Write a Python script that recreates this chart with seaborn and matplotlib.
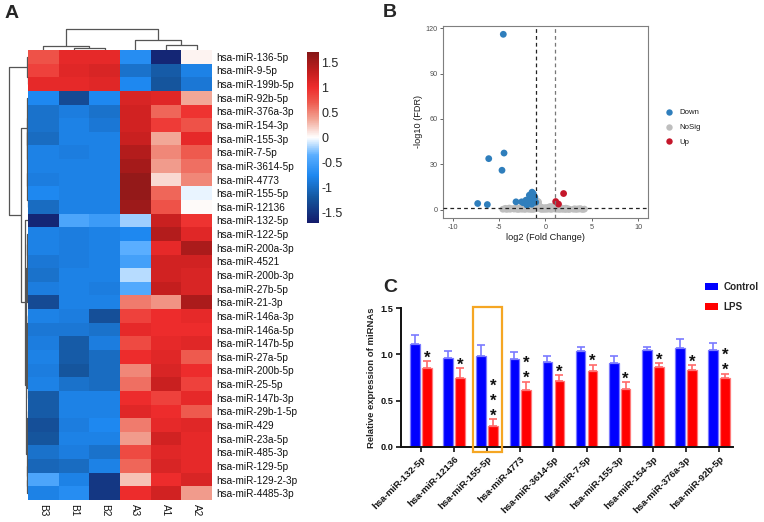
import numpy as np
import pandas as pd
import matplotlib
matplotlib.use('Agg')
import matplotlib.pyplot as plt
import seaborn as sns
from matplotlib.colors import LinearSegmentedColormap
from matplotlib.patches import Rectangle
from matplotlib.lines import Line2D

sns.set_theme(style='white')
plt.rcParams['font.family'] = ['Liberation Sans', 'DejaVu Sans']
plt.rcParams['axes.unicode_minus'] = False

# ---------------- Panel A data ----------------
samples = ['B3', 'B1', 'B2', 'A3', 'A1', 'A2']
mirnas = ['hsa-miR-136-5p', 'hsa-miR-9-5p', 'hsa-miR-199b-5p', 'hsa-miR-92b-5p',
          'hsa-miR-376a-3p', 'hsa-miR-154-3p', 'hsa-miR-155-3p', 'hsa-miR-7-5p',
          'hsa-miR-3614-5p', 'hsa-miR-4773', 'hsa-miR-155-5p', 'hsa-miR-12136',
          'hsa-miR-132-5p', 'hsa-miR-122-5p', 'hsa-miR-200a-3p', 'hsa-miR-4521',
          'hsa-miR-200b-3p', 'hsa-miR-27b-5p', 'hsa-miR-21-3p', 'hsa-miR-146a-3p',
          'hsa-miR-146a-5p', 'hsa-miR-147b-5p', 'hsa-miR-27a-5p', 'hsa-miR-200b-5p',
          'hsa-miR-25-5p', 'hsa-miR-147b-3p', 'hsa-miR-29b-1-5p', 'hsa-miR-429',
          'hsa-miR-23a-5p', 'hsa-miR-485-3p', 'hsa-miR-129-5p', 'hsa-miR-129-2-3p',
          'hsa-miR-4485-3p']
heat = [
    [0.75, 1.05, 1.05, -0.70, -1.60, 0.05],
    [0.85, 1.10, 1.15, -0.95, -1.15, -0.80],
    [1.05, 1.05, 1.10, -0.75, -1.20, -0.90],
    [-0.75, -1.30, -0.75, 1.15, 1.10, 0.35],
    [-0.95, -0.85, -0.95, 1.20, 0.65, 0.95],
    [-0.95, -0.80, -0.90, 1.20, 0.90, 0.75],
    [-1.00, -0.80, -0.80, 1.25, 0.35, 1.05],
    [-0.80, -0.85, -0.80, 1.40, 0.50, 0.70],
    [-0.80, -0.80, -0.80, 1.50, 0.40, 0.60],
    [-0.85, -0.80, -0.80, 1.60, 0.15, 0.50],
    [-0.75, -0.80, -0.80, 1.60, 0.65, -0.05],
    [-1.00, -0.80, -0.80, 1.55, 0.75, 0.02],
    [-1.60, -0.45, -0.55, -0.20, 1.25, 0.95],
    [-0.80, -0.85, -0.80, -0.75, 1.40, 1.10],
    [-0.80, -0.85, -0.80, -0.35, 1.05, 1.45],
    [-0.90, -0.85, -0.80, -0.50, 1.20, 1.20],
    [-0.95, -0.80, -0.80, -0.15, 1.20, 1.15],
    [-0.85, -0.80, -0.85, -0.40, 1.30, 1.15],
    [-1.30, -0.80, -0.80, 0.55, 0.45, 1.45],
    [-0.80, -0.85, -1.25, 0.85, 1.00, 1.05],
    [-0.90, -0.90, -0.95, 1.05, 1.00, 1.00],
    [-0.85, -1.15, -0.85, 0.80, 1.05, 1.10],
    [-0.80, -1.15, -1.00, 1.00, 1.10, 0.70],
    [-0.85, -1.20, -1.00, 0.50, 1.15, 1.00],
    [-0.80, -0.95, -1.00, 0.60, 1.25, 0.85],
    [-1.15, -0.80, -0.80, 1.00, 0.85, 1.05],
    [-1.15, -0.80, -0.80, 1.10, 1.00, 0.70],
    [-1.25, -0.85, -0.75, 0.55, 1.05, 1.10],
    [-1.20, -0.80, -0.80, 0.40, 1.20, 1.05],
    [-0.95, -0.85, -0.95, 0.80, 1.10, 1.05],
    [-1.05, -1.00, -0.80, 0.65, 1.15, 1.05],
    [-0.45, -0.80, -1.45, 0.25, 1.00, 1.15],
    [-0.80, -0.70, -1.45, 1.00, 1.20, 0.40],
]
# dendrogram topology: [left, right, merge height]
col_tree = [[0, [1, 2, 2.0], 4.0], [3, [4, 5, 5.0], 10.0], 21.0]
row_tree = [
    [0, [1, 2, 0.4], 0.9],
    [
        [3, [[[4, 5, 0.3], [6, 7, 0.35], 0.55], [[8, 9, 0.3], [10, 11, 0.45], 0.6], 0.8], 1.1],
        [12, [[[[13, [14, 15, 0.3], 0.5], [[16, 17, 0.35], 18, 0.6], 0.9],
               [[[19, 20, 0.4], [21, 22, 0.3], 0.6], [[23, 24, 0.3], 25, 0.45], 0.8], 1.6],
              [[[26, 27, 0.35], [28, 29, 0.3], 0.6], [30, [31, 32, 0.9], 1.1], 1.3], 2.2], 3.0],
        7.3],
    18.7]

# ---------------- Panel B data ----------------
down_x = [-4.55, -4.47, -6.12, -4.69, -7.31, -6.27, -3.18, -2.57, -2.10, -1.74, -1.45,
          -1.31, -1.85, -1.05, -1.60, -2.40, -1.20, -1.50, -2.00, -1.15, -1.35]
down_y = [116.0, 37.4, 33.7, 26.0, 4.0, 3.3, 5.1, 5.1, 6.2, 9.5, 11.5,
          10.4, 6.6, 4.8, 7.5, 4.5, 5.0, 3.5, 3.0, 8.2, 6.0]
up_x = [1.10, 1.40, 1.95]
up_y = [5.3, 3.6, 10.6]
nosig_x = [-4.6, -4.4, -4.2, -4.0, -3.8, -3.6, -3.4, -3.3, -3.1, -3.0,
           -2.9, -2.7, -2.6, -2.5, -2.3, -2.2, -2.1, -1.9, -1.8, -1.7,
           -1.6, -1.5, -1.4, -1.3, -1.2, -1.1, -1.0, -0.95, -0.9, -0.85,
           -0.8, -0.75, -0.7, -0.65, -0.6, -0.55, -0.5, -0.4, -0.3, -0.2,
           -0.1, 0.0, 0.1, 0.2, 0.3, 0.4, 0.5, 0.6, 0.7, 0.8,
           0.9, 1.0, 1.1, 1.2, 1.3, 1.4, 1.5, 1.6, 1.7, 1.8,
           1.9, 2.0, 2.1, 2.2, 2.3, 2.4, 2.5, 2.6, 3.0, 3.15,
           3.3, 3.45, 3.6, 3.75, 3.9, 4.05, 4.2, -0.9, -0.8, -0.7,
           -0.6, -0.5, -0.4, 0.3, 0.5, 0.7, 0.9, -2.8, -2.0, -1.5,
           -3.9, 1.0, 1.6, 2.2, -4.3, -0.85, -0.75, 1.2, -1.1, 0.0]
nosig_y = [0.2, 0.5, 0.1, 0.4, 0.2, 0.6, 0.3, 0.8, 0.2, 0.6,
           0.1, 0.4, 0.9, 0.2, 0.5, 0.1, 0.7, 0.3, 1.0, 0.2,
           0.6, 0.4, 0.9, 0.1, 1.1, 0.5, 1.2, 2.2, 3.0, 3.8,
           4.4, 3.4, 2.8, 2.0, 1.6, 1.1, 0.8, 0.3, 0.6, 0.1,
           0.9, 0.4, 0.2, 0.7, 0.3, 1.0, 0.5, 0.1, 0.8, 0.4,
           1.2, 0.9, 0.2, 0.6, 0.3, 0.8, 0.1, 0.5, 0.9, 0.2,
           0.4, 0.7, 0.1, 0.3, 0.6, 0.2, 0.4, 0.1, 0.2, 0.5,
           0.1, 0.4, 0.3, 0.6, 0.2, 0.1, 0.3, 1.0, 1.8, 1.3,
           0.7, 0.2, 1.5, 1.5, 2.0, 1.1, 2.4, 1.0, 1.2, 0.2,
           1.0, 2.3, 1.4, 0.9, 0.8, 5.5, 5.0, 2.8, 2.5, 1.3]

# ---------------- Panel C data ----------------
bar_mirnas = ['hsa-miR-132-5p', 'hsa-miR-12136', 'hsa-miR-155-5p', 'hsa-miR-4773',
              'hsa-miR-3614-5p', 'hsa-miR-7-5p', 'hsa-miR-155-3p', 'hsa-miR-154-3p',
              'hsa-miR-376a-3p', 'hsa-miR-92b-5p']
ctrl_mean = [1.11, 0.96, 0.98, 0.95, 0.915, 1.035, 0.91, 1.045, 1.075, 1.045]
ctrl_sd = [0.10, 0.08, 0.125, 0.08, 0.065, 0.05, 0.075, 0.04, 0.09, 0.08]
lps_mean = [0.855, 0.75, 0.225, 0.615, 0.71, 0.82, 0.625, 0.862, 0.832, 0.745]
lps_sd = [0.075, 0.10, 0.072, 0.09, 0.068, 0.07, 0.077, 0.046, 0.051, 0.047]
stars = ['*', '*', '***', '**', '*', '*', '*', '*', '*', '**']

W, H = 764, 522
fig = plt.figure(figsize=(W / 100, H / 100), dpi=100)


def box(x0, y0, x1, y1):
    return [x0 / W, 1 - y1 / H, (x1 - x0) / W, (y1 - y0) / H]


# ================= Panel A =================
cmap = LinearSegmentedColormap.from_list('hm', [
    (0.0, '#141B6B'), (0.147, '#15569E'), (0.279, '#1E88F0'), (0.397, '#5AAEFF'),
    (0.5, '#FFFFFF'), (0.603, '#F2A898'), (0.706, '#EE5A4E'), (0.794, '#EE2C2C'),
    (0.882, '#C41E1E'), (1.0, '#861717')])

ax_h = fig.add_axes(box(28, 50, 212, 500))
ax_cb = fig.add_axes(box(307, 52, 318.5, 223))
df_heat = pd.DataFrame(heat, index=mirnas, columns=samples)
sns.heatmap(df_heat, ax=ax_h, cmap=cmap, vmin=-1.7, vmax=1.7, cbar_ax=ax_cb,
            xticklabels=True, yticklabels=True, linewidths=0)
ax_h.yaxis.tick_right()
ax_h.set_yticklabels(mirnas, rotation=0, fontsize=7.2, color='#111111')
ax_h.set_xticklabels(samples, rotation=270, fontsize=7.2, color='#111111')
ax_h.tick_params(axis='both', length=0, pad=3)
ax_h.set_xlabel('')
ax_h.set_ylabel('')
ax_cb.set_yticks([1.5, 1, 0.5, 0, -0.5, -1, -1.5])
ax_cb.set_yticklabels(['1.5', '1', '0.5', '0', '-0.5', '-1', '-1.5'], fontsize=9)
ax_cb.tick_params(length=0, pad=2)


def draw_tree(ax, node, orient):
    if isinstance(node, int):
        return node + 0.5, 0.0
    l, r, h = node
    pl, hl = draw_tree(ax, l, orient)
    pr, hr = draw_tree(ax, r, orient)
    ps = [pl, pl, pr, pr]
    hs = [hl, h, h, hr]
    if orient == 'top':
        ax.plot(ps, hs, color='#555555', lw=0.9, solid_capstyle='butt')
    else:
        ax.plot(hs, ps, color='#555555', lw=0.9, solid_capstyle='butt')
    return (pl + pr) / 2, h


ax_cd = fig.add_axes(box(28, 28, 212, 50))
draw_tree(ax_cd, col_tree, 'top')
ax_cd.set_xlim(0, 6)
ax_cd.set_ylim(0, 22)
ax_cd.axis('off')

ax_rd = fig.add_axes(box(8, 50, 28, 500))
draw_tree(ax_rd, row_tree, 'left')
ax_rd.set_ylim(33, 0)
ax_rd.set_xlim(20, 0)
ax_rd.axis('off')

fig.text(5 / W, 1 - 18 / H, 'A', fontsize=14, fontweight='bold')

# ================= Panel B =================
ax_v = fig.add_axes(box(443, 26, 648, 218))
df_v = pd.DataFrame({
    'log2FC': nosig_x + down_x + up_x,
    'nlogFDR': nosig_y + down_y + up_y,
    'group': ['NoSig'] * len(nosig_x) + ['Down'] * len(down_x) + ['Up'] * len(up_x)})
pal = {'Down': '#2F7EBC', 'NoSig': '#BEBEBE', 'Up': '#C4162A'}
sns.scatterplot(data=df_v, x='log2FC', y='nlogFDR', hue='group',
                hue_order=['Down', 'NoSig', 'Up'], palette=pal, s=24,
                linewidth=0, ax=ax_v, legend=False, zorder=3)
ax_v.axvline(-1, color='#222222', lw=0.9, ls=(0, (3, 2.5)), zorder=4)
ax_v.axvline(1, color='#777777', lw=0.9, ls=(0, (3, 2.5)), zorder=4)
ax_v.axhline(1.3, color='#222222', lw=0.9, ls=(0, (3, 2.5)), zorder=4)
ax_v.set_xlim(-11.05, 11.05)
ax_v.set_ylim(-5.6, 121.5)
ax_v.set_xticks([-10, -5, 0, 5, 10])
ax_v.set_yticks([0, 30, 60, 90, 120])
for s in ax_v.spines.values():
    s.set_color('#7F7F7F')
    s.set_linewidth(0.8)
ax_v.tick_params(axis='both', labelsize=5.2, colors='#4D4D4D', length=2.5, width=0.6,
                 direction='out', bottom=True, left=True, pad=1.5)
ax_v.set_xlabel('log2 (Fold Change)', fontsize=6.6, color='#1A1A1A', labelpad=1.5)
ax_v.set_ylabel('-log10 (FDR)', fontsize=6.6, color='#1A1A1A', labelpad=2)
handles = [Line2D([0], [0], marker='o', ls='', markersize=4.6, markerfacecolor=pal[g],
                  markeredgewidth=0) for g in ['Down', 'NoSig', 'Up']]
fig.legend(handles, ['Down', 'NoSig', 'Up'], loc='upper left',
           bbox_to_anchor=(657 / W, 1 - 102 / H), frameon=False, fontsize=5.6,
           handletextpad=0.8, labelspacing=0.95, handlelength=1.2, labelcolor='#1A1A1A')
fig.text(383 / W, 1 - 17 / H, 'B', fontsize=14, fontweight='bold')

# ================= Panel C =================
ax_b = fig.add_axes(box(400.7, 308.3, 733, 446.7))
df_b = pd.DataFrame({
    'miRNA': bar_mirnas * 2,
    'value': ctrl_mean + lps_mean,
    'group': ['Control'] * len(bar_mirnas) + ['LPS'] * len(bar_mirnas)})
sns.barplot(data=df_b, x='miRNA', y='value', hue='group', hue_order=['Control', 'LPS'],
            palette={'Control': '#0000FF', 'LPS': '#FF0000'}, width=0.72, gap=0.2,
            errorbar=None, ax=ax_b, legend=False, saturation=1)
edgec = ['#7A7AFF', '#FF7A7A']
errc = ['#7A7AFF', '#FF6A6A']
tops = []
for ci, (cont, means, sds) in enumerate(zip(ax_b.containers, [ctrl_mean, lps_mean],
                                            [ctrl_sd, lps_sd])):
    xs = []
    for p in cont.patches:
        p.set_edgecolor(edgec[ci])
        p.set_linewidth(0.9)
        xs.append(p.get_x() + p.get_width() / 2)
    ax_b.errorbar(xs, means, yerr=[[0] * len(sds), sds], fmt='none', ecolor=errc[ci],
                  elinewidth=1.2, capsize=2.6, capthick=1.2, zorder=1)
    tops.append((xs, [m + s for m, s in zip(means, sds)]))
lps_x, lps_top = tops[1]
for x, t, st in zip(lps_x, lps_top, stars):
    ax_b.text(x, t - 0.05, '\n'.join(st), ha='center', va='bottom', linespacing=1.0,
              fontsize=12, fontweight='bold', color='#111111')
ax_b.set_ylim(0, 1.5)
ax_b.set_xlim(-0.61, 9.42)
ax_b.set_yticks([0, 0.5, 1.0, 1.5])
ax_b.set_yticklabels(['0.0', '0.5', '1.0', '1.5'], fontsize=6.6, fontweight='bold')
ax_b.set_xticks(range(len(bar_mirnas)))
ax_b.set_xticklabels(bar_mirnas, rotation=45, ha='right', rotation_mode='anchor',
                     fontsize=6.8, fontweight='bold')
ax_b.tick_params(axis='both', length=3.5, width=1.2, direction='out', bottom=True,
                 left=True, pad=2, colors='#111111')
for side in ['top', 'right']:
    ax_b.spines[side].set_visible(False)
for side in ['left', 'bottom']:
    ax_b.spines[side].set_color('#111111')
    ax_b.spines[side].set_linewidth(1.4)
ax_b.set_xlabel('')
ax_b.set_ylabel('Relative expression of miRNAs', fontsize=6.8, fontweight='bold',
                labelpad=3)
# highlight box around hsa-miR-155-5p
ax_b.add_patch(Rectangle((2 - 0.426, -0.054), 0.866, 1.572, fill=False,
                         edgecolor='#F5A623', lw=1.6, clip_on=False, zorder=5))
bh = [Rectangle((0, 0), 1, 1, facecolor='#0000FF', edgecolor='none'),
      Rectangle((0, 0), 1, 1, facecolor='#FF0000', edgecolor='none')]
fig.legend(bh, ['Control', 'LPS'], loc='upper left', bbox_to_anchor=(698 / W, 1 - 275 / H),
           frameon=False, prop={'size': 7.1, 'weight': 'bold'}, handlelength=1.35,
           handleheight=0.8, handletextpad=0.55, labelspacing=1.0, borderaxespad=0.3)
fig.text(383 / W, 1 - 292 / H, 'C', fontsize=14, fontweight='bold')

fig.savefig('out.png', dpi=100)
